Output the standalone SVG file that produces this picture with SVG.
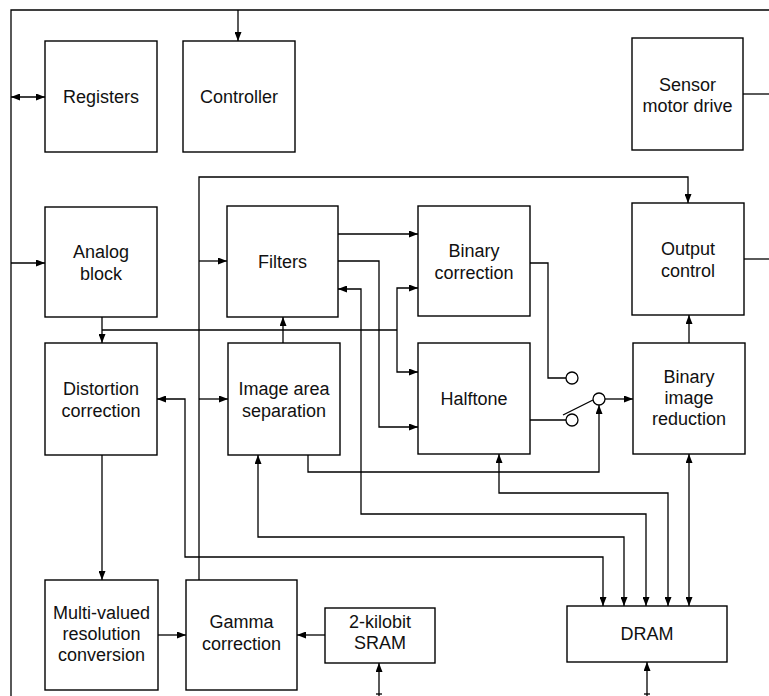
<svg xmlns="http://www.w3.org/2000/svg" width="769" height="696" viewBox="0 0 769 696">
<defs>
<marker id="ah" markerUnits="userSpaceOnUse" markerWidth="9" markerHeight="7" refX="9" refY="3.5" orient="auto-start-reverse">
<path d="M0,0 L9,3.5 L0,7 z" fill="#000"/>
</marker>
<style>
.box{fill:#fff;stroke:#000;stroke-width:1.4}
.t{font-family:"Liberation Sans",Arial,Helvetica,sans-serif;font-size:18px;text-anchor:middle;fill:#111}
.c{fill:none;stroke:#000;stroke-width:1.3}
.a{marker-end:url(#ah)}
.b{marker-start:url(#ah);marker-end:url(#ah)}
.sw{fill:#fff;stroke:#000;stroke-width:1.3}
</style>
</defs>
<rect width="769" height="696" fill="#fff"/>
<g id="connectors">
<path class="c" d="M769,10 H11 V696"/>
<path class="c a" d="M238,10 V41"/>
<path class="c b" d="M11,97 H45"/>
<path class="c a" d="M11,263 H45"/>
<path class="c a" d="M102,317 V343"/>
<path class="c" d="M102,330 H397"/>
<path class="c a" d="M397,330 V288 H418"/>
<path class="c a" d="M397,330 V372 H418"/>
<path class="c a" d="M199,580 V177 H688 V203"/>
<path class="c a" d="M199,261 H227"/>
<path class="c a" d="M199,399 H228"/>
<path class="c a" d="M338,234 H418"/>
<path class="c a" d="M338,261 H379 V427 H418"/>
<path class="c a" d="M283,343 V317"/>
<path class="c b" d="M157,399 H185 V557 H603 V606"/>
<path class="c b" d="M258,455 V537 H624 V606"/>
<path class="c b" d="M338,289 H361 V514 H646 V606"/>
<path class="c b" d="M499,454 V493 H668 V606"/>
<path class="c b" d="M689,454 V606"/>
<path class="c a" d="M308,455 V472 H599 V405"/>
<path class="c" d="M530,263 H548 V378 H566"/>
<path class="c" d="M530,420 H566"/>
<path class="c" d="M563,415 L593,400"/>
<path class="c a" d="M605,399 H633"/>
<path class="c a" d="M689,343 V315"/>
<path class="c a" d="M102,455 V580"/>
<path class="c a" d="M158,635 H186"/>
<path class="c a" d="M325,635 H297"/>
<path class="c a" d="M379,696 V663"/>
<path class="c" d="M376,694 H382"/>
<path class="c a" d="M647,696 V662"/>
<path class="c" d="M644,694 H650"/>
<path class="c" d="M743,94 H769"/>
<path class="c" d="M744,259 H769"/>
<circle class="sw" cx="572" cy="378" r="6"/>
<circle class="sw" cx="572" cy="420" r="6"/>
<circle class="sw" cx="599" cy="399" r="6"/>
</g>
<g id="registers"><rect class="box" x="45" y="41" width="112" height="111"/><text class="t" x="101" y="103">Registers</text></g>
<g id="controller"><rect class="box" x="183" y="41" width="112" height="111"/><text class="t" x="239" y="103">Controller</text></g>
<g id="sensor-motor-drive"><rect class="box" x="632" y="38" width="111" height="112"/><text class="t" x="687.5" y="91">Sensor</text><text class="t" x="687.5" y="112">motor drive</text></g>
<g id="analog-block"><rect class="box" x="45" y="207" width="112" height="110"/><text class="t" x="101" y="257.5">Analog</text><text class="t" x="101" y="279.5">block</text></g>
<g id="filters"><rect class="box" x="227" y="206" width="111" height="111"/><text class="t" x="282.5" y="268">Filters</text></g>
<g id="binary-correction"><rect class="box" x="418" y="206" width="112" height="110"/><text class="t" x="474" y="256.5">Binary</text><text class="t" x="474" y="278.5">correction</text></g>
<g id="output-control"><rect class="box" x="632" y="203" width="112" height="112"/><text class="t" x="688" y="255">Output</text><text class="t" x="688" y="277">control</text></g>
<g id="distortion-correction"><rect class="box" x="45" y="343" width="112" height="112"/><text class="t" x="101" y="395">Distortion</text><text class="t" x="101" y="417">correction</text></g>
<g id="image-area-separation"><rect class="box" x="228" y="343" width="112" height="112"/><text class="t" x="284" y="395">Image area</text><text class="t" x="284" y="417">separation</text></g>
<g id="halftone"><rect class="box" x="418" y="343" width="112" height="111"/><text class="t" x="474" y="405">Halftone</text></g>
<g id="binary-image-reduction"><rect class="box" x="633" y="343" width="112" height="111"/><text class="t" x="689" y="383">Binary</text><text class="t" x="689" y="404">image</text><text class="t" x="689" y="425">reduction</text></g>
<g id="multi-valued-resolution-conversion"><rect class="box" x="45" y="580" width="113" height="110"/><text class="t" x="101.5" y="619">Multi-valued</text><text class="t" x="101.5" y="640">resolution</text><text class="t" x="101.5" y="661">conversion</text></g>
<g id="gamma-correction"><rect class="box" x="186" y="580" width="111" height="110"/><text class="t" x="241.5" y="628">Gamma</text><text class="t" x="241.5" y="650">correction</text></g>
<g id="sram"><rect class="box" x="325" y="608" width="110" height="55"/><text class="t" x="380" y="628">2-kilobit</text><text class="t" x="380" y="649">SRAM</text></g>
<g id="dram"><rect class="box" x="567" y="606" width="160" height="56"/><text class="t" x="647" y="640">DRAM</text></g>
</svg>
